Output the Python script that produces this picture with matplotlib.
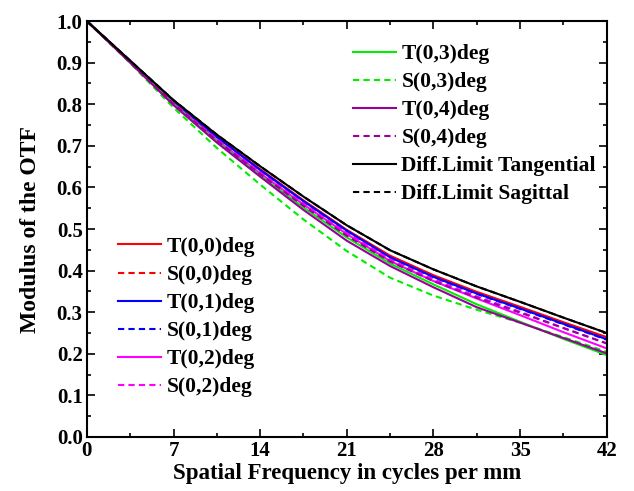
import matplotlib
matplotlib.use("Agg")
import matplotlib.pyplot as plt
from matplotlib.ticker import MultipleLocator, FuncFormatter

freq = [0, 3.5, 7, 10.5, 14, 17.5, 21, 24.5, 28, 31.5, 35, 38.5, 42]

diff_t = [1.000, 0.905, 0.810, 0.727, 0.651, 0.578, 0.509, 0.449, 0.403, 0.362, 0.325, 0.287, 0.250]
diff_s = [1.000, 0.905, 0.810, 0.727, 0.651, 0.578, 0.509, 0.449, 0.403, 0.362, 0.325, 0.287, 0.250]
t00 = [1.000, 0.904, 0.807, 0.722, 0.644, 0.569, 0.498, 0.436, 0.389, 0.349, 0.313, 0.276, 0.240]
s00 = [1.000, 0.903, 0.806, 0.721, 0.642, 0.567, 0.496, 0.434, 0.387, 0.347, 0.311, 0.274, 0.238]
t01 = [1.000, 0.903, 0.806, 0.721, 0.642, 0.567, 0.496, 0.432, 0.385, 0.345, 0.309, 0.272, 0.235]
s01 = [1.000, 0.903, 0.805, 0.720, 0.641, 0.566, 0.495, 0.431, 0.384, 0.344, 0.308, 0.271, 0.234]
t02 = [1.000, 0.902, 0.802, 0.714, 0.634, 0.559, 0.488, 0.423, 0.375, 0.333, 0.293, 0.252, 0.213]
s02 = [1.000, 0.902, 0.803, 0.716, 0.636, 0.561, 0.490, 0.427, 0.379, 0.338, 0.301, 0.262, 0.225]
t03 = [1.000, 0.901, 0.800, 0.711, 0.629, 0.552, 0.480, 0.417, 0.367, 0.319, 0.277, 0.236, 0.197]
s03 = [1.000, 0.899, 0.792, 0.695, 0.607, 0.523, 0.447, 0.383, 0.340, 0.306, 0.275, 0.240, 0.205]
t04 = [1.000, 0.900, 0.798, 0.708, 0.626, 0.546, 0.472, 0.411, 0.360, 0.312, 0.275, 0.238, 0.201]
s04 = [1.000, 0.901, 0.801, 0.713, 0.632, 0.556, 0.484, 0.422, 0.375, 0.335, 0.299, 0.262, 0.225]

labels = ["T(0,0)deg", "S(0,0)deg", "T(0,1)deg", "S(0,1)deg", "T(0,2)deg", "S(0,2)deg",
          "T(0,3)deg", "S(0,3)deg", "T(0,4)deg", "S(0,4)deg",
          "Diff.Limit Tangential", "Diff.Limit Sagittal"]
colors = ["#ff0000", "#ff0000", "#0000ff", "#0000ff", "#ff00ff", "#ff00ff",
          "#00ee00", "#00ee00", "#990099", "#990099", "#000000", "#000000"]
series = [t00, s00, t01, s01, t02, s02, t03, s03, t04, s04, diff_t, diff_s]

plt.rcParams['font.family'] = ['Liberation Serif', 'DejaVu Serif']
plt.rcParams['font.weight'] = 'bold'

fig = plt.figure(figsize=(6.34, 4.91), dpi=100)
ax = fig.add_axes([0.137, 0.110, 0.820, 0.847])

dash = (0, (3, 2))
handles = []
for i, (ys, c, lab) in enumerate(zip(series, colors, labels)):
    ls = '-' if i % 2 == 0 else dash
    h, = ax.plot(freq, ys, color=c, lw=1.5, linestyle=ls, label=lab)
    handles.append(h)

ax.set_xlim(0, 42)
ax.set_ylim(0, 1.0)
ax.xaxis.set_major_locator(MultipleLocator(7))
ax.xaxis.set_minor_locator(MultipleLocator(3.5))
ax.yaxis.set_major_locator(MultipleLocator(0.1))
ax.yaxis.set_minor_locator(MultipleLocator(0.05))
ax.tick_params(which='both', direction='in', top=True, right=True, width=1.2)
ax.tick_params(which='major', length=6, labelsize=15)
ax.tick_params(axis='x', which='major', pad=3)
ax.tick_params(axis='y', which='major', pad=3)
ax.tick_params(which='minor', length=3)
ax.xaxis.set_major_formatter(FuncFormatter(lambda v, p: f"{int(round(v))}"))
ax.yaxis.set_major_formatter(FuncFormatter(lambda v, p: f"{v:.1f}"))
for lab in ax.get_xticklabels() + ax.get_yticklabels():
    lab.set_fontweight('bold')
for sp in ax.spines.values():
    sp.set_linewidth(1.5)

ax.set_xlabel("Spatial Frequency in cycles per mm", fontsize=16.5, fontweight='bold', labelpad=1)
ax.set_ylabel("Modulus of the OTF", fontsize=17, fontweight='bold', labelpad=11)

leg_kw = dict(frameon=False, fontsize=15.5, handlelength=2.0, handletextpad=0.25,
              labelspacing=0.37, borderpad=0, borderaxespad=0)
leg1 = ax.legend(handles=handles[6:], loc='upper left', bbox_to_anchor=(0.512, 0.945), **leg_kw)
ax.add_artist(leg1)
leg2 = ax.legend(handles=handles[:6], loc='upper left', bbox_to_anchor=(0.06, 0.481), **leg_kw)
for leg in (leg1, leg2):
    for t in leg.get_texts():
        t.set_fontweight('bold')

fig.savefig("out.png", dpi=100)
